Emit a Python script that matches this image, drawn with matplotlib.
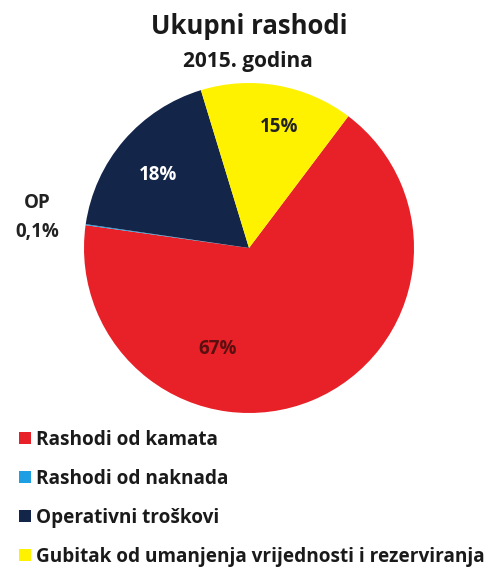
import matplotlib.pyplot as plt
from matplotlib.patches import Patch

# -- data
categories = ['Rashodi od kamata', 'Rashodi od naknada', 'Operativni troškovi',
              'Gubitak od umanjenja vrijednosti i rezerviranja']
values = [67, 0.1, 18, 15]
pct_labels = ['67%', '0,1%', '18%', '15%']
colors = ['#E82027', '#1E9FE3', '#14254A', '#FFF200']

W, H = 493, 568
fig = plt.figure(figsize=(W / 100, H / 100), dpi=100)
fig.patch.set_facecolor('white')
fam = ['Open Sans', 'DejaVu Sans']
plt.rcParams['font.family'] = fam

# -- pie centred at (249, 248) px, radius 165 px
cx, cy, r = 249, 248, 165
ax = fig.add_axes([(cx - r) / W, 1 - (cy + r) / H, 2 * r / W, 2 * r / H])
wedges, _ = ax.pie(values, colors=colors, startangle=53, counterclock=False,
                   radius=1, wedgeprops=dict(linewidth=0))
ax.set_xlim(-1, 1)
ax.set_ylim(-1, 1)
ax.set_aspect('equal')
ax.axis('off')

def px(x, y):
    # pixel -> axes data coords
    return (x - cx) / r, (cy - y) / r

# -- slice labels
lab_kw = dict(ha='center', va='center_baseline', fontsize=13.5, fontweight='bold')
ax.text(*px(218, 346), pct_labels[0], color='#5A1010', **lab_kw)
ax.text(*px(158, 172), pct_labels[2], color='white', **lab_kw)
ax.text(*px(279, 125), pct_labels[3], color='#222222', **lab_kw)
fig.text(37 / W, 1 - 208 / H, 'OP', ha='center', va='baseline',
         fontsize=13.5, fontweight='bold', color='#222222')
fig.text(37 / W, 1 - 237 / H, pct_labels[1], ha='center', va='baseline',
         fontsize=13.5, fontweight='bold', color='#222222')

# -- titles
fig.text(249 / W, 1 - 34 / H, 'Ukupni rashodi', ha='center', va='baseline',
         fontsize=18.5, fontweight='bold', color='#1a1a1a')
fig.text(248 / W, 1 - 67 / H, '2015. godina', ha='center', va='baseline',
         fontsize=15, fontweight='bold', color='#1a1a1a')

# -- legend
handles = [Patch(facecolor=c, edgecolor='none') for c in colors]
leg = fig.legend(handles, categories, loc='upper left',
                 bbox_to_anchor=(11 / W, 1 - 422 / H), frameon=False,
                 handlelength=0.65, handleheight=0.65, handletextpad=0.25,
                 labelspacing=1.0, borderaxespad=0,
                 prop=dict(family=fam, weight='bold', size=13.7))
for t in leg.get_texts():
    t.set_color('#1a1a1a')

fig.savefig('out.png', dpi=100)
